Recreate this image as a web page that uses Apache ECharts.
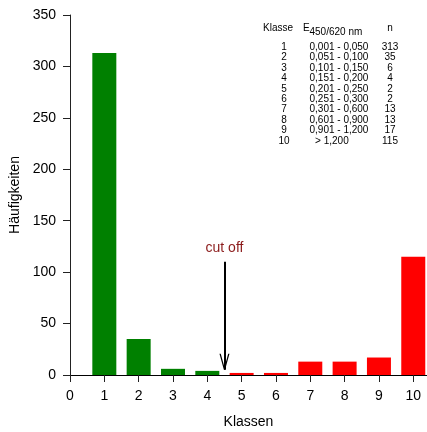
<!DOCTYPE html>
<html>
<head>
<meta charset="utf-8">
<script src="https://cdn.jsdelivr.net/npm/echarts@6/dist/echarts.min.js"></script>
<style>
html,body{margin:0;padding:0;background:#fff;}
#chart{width:427px;height:432px;}
</style>
</head>
<body>
<div id="chart"></div>
<script>
const classes = [1, 2, 3, 4, 5, 6, 7, 8, 9, 10];
const counts = [313, 35, 6, 4, 2, 2, 13, 13, 17, 115];
const ranges = ['0,001 - 0,050', '0,051 - 0,100', '0,101 - 0,150', '0,151 - 0,200', '0,201 - 0,250',
  '0,251 - 0,300', '0,301 - 0,600', '0,601 - 0,900', '0,901 - 1,200', '  > 1,200'];
const xTickValues = [0, 1, 2, 3, 4, 5, 6, 7, 8, 9, 10];
const yTickValues = [0, 50, 100, 150, 200, 250, 300, 350];
const cutOffClass = 4.5;
const arrowTop = 110;
const arrowTip = 5;

const FONT = "'Liberation Sans', Arial, Helvetica, sans-serif";
const chart = echarts.init(document.getElementById('chart'), null, {renderer: 'canvas'});

const tableEls = [];
const tStyle = {fontFamily: FONT, fontSize: 10, fill: '#000'};
tableEls.push({type: 'text', x: 278, y: 28, style: Object.assign({text: 'Klasse', textAlign: 'center', textVerticalAlign: 'middle'}, tStyle)});
tableEls.push({type: 'text', x: 303, y: 28, style: Object.assign({text: 'E', textAlign: 'left', textVerticalAlign: 'middle'}, tStyle)});
tableEls.push({type: 'text', x: 309.5, y: 32, style: Object.assign({text: '450/620 nm', textAlign: 'left', textVerticalAlign: 'middle'}, tStyle)});
tableEls.push({type: 'text', x: 390, y: 28, style: Object.assign({text: 'n', textAlign: 'center', textVerticalAlign: 'middle'}, tStyle)});
classes.forEach(function (c, i) {
  const y = 47.2 + i * 10.4;
  tableEls.push({type: 'text', x: 284, y: y, style: Object.assign({text: String(c), textAlign: 'center', textVerticalAlign: 'middle'}, tStyle)});
  tableEls.push({type: 'text', x: 309.5, y: y, style: Object.assign({text: ranges[i], textAlign: 'left', textVerticalAlign: 'middle'}, tStyle)});
  tableEls.push({type: 'text', x: 390, y: y, style: Object.assign({text: String(counts[i]), textAlign: 'center', textVerticalAlign: 'middle'}, tStyle)});
});

const axisColor = '#222';
const option = {
  animation: false,
  backgroundColor: '#fff',
  grid: {left: 70, right: 0, top: 15, bottom: 57, containLabel: false, outerBoundsMode: 'none'},
  xAxis: [{
    type: 'value', min: 0, max: 10.4, interval: 1,
    name: 'Klassen', nameLocation: 'middle', nameGap: 40,
    nameTextStyle: {fontFamily: FONT, fontSize: 14, color: '#000'},
    axisLine: {show: true, onZero: false, lineStyle: {color: axisColor, width: 1}},
    axisTick: {show: true, length: 7, inside: false, customValues: xTickValues, lineStyle: {color: axisColor}},
    axisLabel: {fontFamily: FONT, fontSize: 14, color: '#000', margin: 14, customValues: xTickValues},
    splitLine: {show: false}
  }, {
    type: 'value', position: 'top', min: 0, max: 10.4,
    axisLine: {show: true, lineStyle: {color: '#000', width: 1}},
    axisTick: {show: false}, axisLabel: {show: false}, splitLine: {show: false}
  }],
  yAxis: {
    type: 'value', min: 0, max: 350, interval: 50,
    name: 'Häufigkeiten', nameLocation: 'middle', nameGap: 44, nameRotate: 90,
    nameTextStyle: {fontFamily: FONT, fontSize: 14, color: '#000'},
    axisLine: {show: true, lineStyle: {color: axisColor, width: 1}},
    axisTick: {show: true, length: 7, inside: false, lineStyle: {color: axisColor}},
    axisLabel: {fontFamily: FONT, fontSize: 14, color: '#000', margin: 14, customValues: yTickValues},
    splitLine: {show: false}
  },
  series: [{
    type: 'bar',
    xAxisIndex: 0,
    barWidth: 24,
    data: classes.map(function (c, i) { return [c, counts[i]]; }),
    itemStyle: {
      color: function (p) { return p.value[0] < cutOffClass ? '#008000' : '#ff0000'; }
    },
    markLine: {
      silent: true,
      symbol: ['none', 'none'],
      lineStyle: {color: '#000', width: 2, type: 'solid'},
      label: {show: true, position: 'start', formatter: 'cut off', color: '#8b1a1a', fontFamily: FONT, fontSize: 14, distance: 7},
      data: [[{coord: [cutOffClass, arrowTop]}, {coord: [cutOffClass, arrowTip]}]]
    },
    markPoint: {
      silent: true,
      symbol: 'path://M0,0 L1.3,0 L5,13.5 L8.7,0 L10,0 L5.6,16 L4.4,16 Z',
      symbolSize: [10, 16],
      symbolOffset: [0, '-50%'],
      itemStyle: {color: '#000'},
      label: {show: false},
      data: [{coord: [cutOffClass, arrowTip]}]
    }
  }],
  graphic: tableEls
};
chart.setOption(option);
</script>
</body>
</html>
